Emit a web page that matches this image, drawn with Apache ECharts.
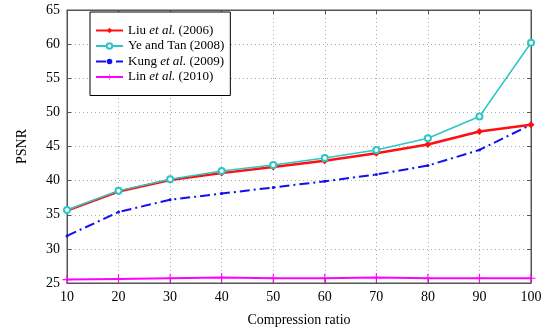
<!DOCTYPE html>
<html>
<head>
<meta charset="utf-8">
<script src="https://cdn.jsdelivr.net/npm/echarts@6/dist/echarts.min.js"></script>
<style>
  html, body { margin: 0; padding: 0; background: #fff; }
  #chart { width: 554px; height: 330px; }
</style>
</head>
<body>
<div id="chart"></div>
<script>
  // compression ratio vs PSNR
  const ratios = [10, 20, 30, 40, 50, 60, 70, 80, 90, 100];
  const liu2006 = [35.6, 38.4, 40.1, 41.1, 42.0, 42.9, 44.0, 45.3, 47.2, 48.2];
  const ye2008 = [35.7, 38.5, 40.2, 41.4, 42.3, 43.3, 44.5, 46.2, 49.4, 60.2];
  const kung2009 = [31.9, 35.4, 37.2, 38.1, 39.0, 39.9, 40.9, 42.2, 44.5, 48.2];
  const lin2010 = [25.5, 25.6, 25.7, 25.8, 25.7, 25.7, 25.8, 25.7, 25.7, 25.7];

  const serif = 'Liberation Serif';
  const pairs = arr => arr.map((v, i) => [ratios[i], v]);
  const plusPath = 'path://M4.4,0 H5.6 V4.4 H10 V5.6 H5.6 V10 H4.4 V5.6 H0 V4.4 H4.4 Z';

  const legendText = {
    'Liu2006': '{n|Liu }{i|et al.}{n| (2006)}',
    'Ye2008': '{n|Ye and Tan (2008)}',
    'Kung2009': '{n|Kung }{i|et al.}{n| (2009)}',
    'Lin2010': '{n|Lin }{i|et al.}{n| (2010)}'
  };

  const myChart = echarts.init(document.getElementById('chart'));
  const options = {
    backgroundColor: '#fff',
    animation: false,
    grid: {
      left: 67, right: 23, top: 10, bottom: 47,
      outerBoundsMode: 'none',
      containLabel: false,
      show: true, borderColor: '#555', borderWidth: 1
    },
    legend: {
      left: 90, top: 12,
      orient: 'vertical',
      backgroundColor: '#fff',
      borderColor: '#000',
      borderWidth: 1,
      padding: [12, 6, 12, 5],
      itemGap: 2.5,
      itemWidth: 27,
      itemHeight: 7,
      formatter: name => legendText[name],
      textStyle: {
        fontFamily: serif,
        fontSize: 13,
        color: '#000',
        rich: {
          n: { fontFamily: serif, fontSize: 13, color: '#000' },
          i: { fontFamily: serif, fontSize: 13, fontStyle: 'italic', color: '#000' }
        }
      },
      data: ['Liu2006', 'Ye2008', 'Kung2009', 'Lin2010']
    },
    xAxis: [{
      type: 'value',
      min: 10, max: 100, interval: 10,
      name: 'Compression ratio',
      nameLocation: 'middle',
      nameGap: 30,
      nameTextStyle: { fontFamily: serif, fontSize: 14, color: '#000' },
      axisLine: { show: true, lineStyle: { color: '#555' } },
      axisTick: { show: true, inside: true, length: 4, lineStyle: { color: '#555' } },
      axisLabel: { fontFamily: serif, fontSize: 14, color: '#000', margin: 7 },
      splitLine: { show: true, lineStyle: { color: '#aaa', type: [1, 3] } }
    }, {
      type: 'value', position: 'top',
      min: 10, max: 100, interval: 10,
      axisLine: { show: true, lineStyle: { color: '#555' } },
      axisTick: { show: true, inside: true, length: 4, lineStyle: { color: '#555' } },
      axisLabel: { show: false },
      splitLine: { show: false }
    }],
    yAxis: [{
      type: 'value',
      min: 25, max: 65, interval: 5,
      name: 'PSNR',
      nameLocation: 'middle',
      nameGap: 38,
      nameRotate: 90,
      nameTextStyle: { fontFamily: serif, fontSize: 14, color: '#000' },
      axisLine: { show: true, lineStyle: { color: '#555' } },
      axisTick: { show: true, inside: true, length: 4, lineStyle: { color: '#555' } },
      axisLabel: { fontFamily: serif, fontSize: 14, color: '#000', margin: 7 },
      splitLine: { show: true, lineStyle: { color: '#aaa', type: [1, 3] } }
    }, {
      type: 'value', position: 'right',
      min: 25, max: 65, interval: 5,
      axisLine: { show: true, lineStyle: { color: '#555' } },
      axisTick: { show: true, inside: true, length: 4, lineStyle: { color: '#555' } },
      axisLabel: { show: false },
      splitLine: { show: false }
    }],
    series: [{
      name: 'Lin2010',
      type: 'line',
      z: 2,
      symbol: plusPath,
      symbolSize: 9,
      lineStyle: { color: '#ff00ff', width: 2 },
      itemStyle: { color: '#ff00ff' },
      data: pairs(lin2010)
    }, {
      name: 'Kung2009',
      type: 'line',
      z: 3,
      symbol: 'circle',
      symbolSize: 3,
      lineStyle: { color: '#1010ee', width: 2, type: [10, 4, 2, 4] },
      itemStyle: { color: '#1010ee' },
      data: pairs(kung2009)
    }, {
      name: 'Liu2006',
      type: 'line',
      z: 4,
      symbol: 'diamond',
      symbolSize: 7,
      lineStyle: { color: '#ff1010', width: 2.5 },
      itemStyle: { color: '#ff1010' },
      data: pairs(liu2006)
    }, {
      name: 'Ye2008',
      type: 'line',
      z: 5,
      symbol: 'emptyCircle',
      symbolSize: 6,
      lineStyle: { color: '#2cc6c6', width: 1.5 },
      itemStyle: { color: '#2cc6c6', borderWidth: 1.2 },
      data: pairs(ye2008)
    }]
  };
  myChart.setOption(options);
</script>
</body>
</html>
